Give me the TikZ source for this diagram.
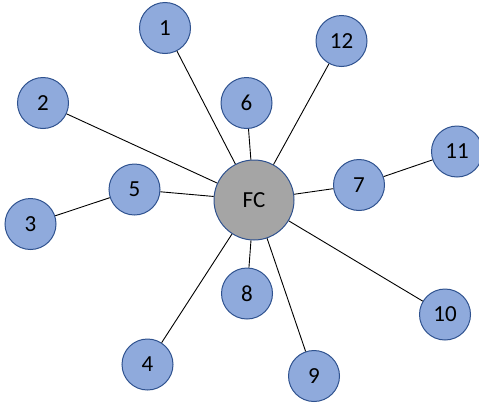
\documentclass[tikz,border=0pt]{standalone}
\usepackage{fontspec}
\setmainfont{Carlito}
\definecolor{nodefill}{HTML}{8FAADC}
\definecolor{nodeline}{HTML}{2F528F}
\definecolor{fcfill}{HTML}{A5A5A5}
\begin{document}
\begin{tikzpicture}[x=1pt,y=-1pt,
  leaf/.style={circle,draw=nodeline,line width=1pt,fill=nodefill,minimum size=51pt,inner sep=0pt,font=\fontsize{23}{27}\selectfont},
  hub/.style={circle,draw=nodeline,line width=1pt,fill=fcfill,minimum size=80pt,inner sep=0pt,font=\fontsize{23}{27}\selectfont},
  link/.style={draw=black,line width=0.9pt}]
\useasboundingbox (0,0) rectangle (479,402);
\node[hub] (fc) at (254,200) {FC};
\node[leaf] (n1) at (165,28) {1};
\node[leaf] (n2) at (43,103) {2};
\node[leaf] (n3) at (30.5,224) {3};
\node[leaf] (n4) at (147.5,364.5) {4};
\node[leaf] (n5) at (134.5,189.5) {5};
\node[leaf] (n6) at (246.5,103) {6};
\node[leaf] (n7) at (359,185) {7};
\node[leaf] (n8) at (247,293.5) {8};
\node[leaf] (n9) at (314,376) {9};
\node[leaf] (n10) at (445,314.5) {10};
\node[leaf] (n11) at (457,151.5) {11};
\node[leaf] (n12) at (341.5,41) {12};
\draw[link] (fc) -- (n1);
\draw[link] (fc) -- (n2);
\draw[link] (fc) -- (n4);
\draw[link] (fc) -- (n5);
\draw[link] (fc) -- (n6);
\draw[link] (fc) -- (n7);
\draw[link] (fc) -- (n8);
\draw[link] (fc) -- (n9);
\draw[link] (fc) -- (n10);
\draw[link] (fc) -- (n12);
\draw[link] (n5) -- (n3);
\draw[link] (n7) -- (n11);
\end{tikzpicture}
\end{document}
